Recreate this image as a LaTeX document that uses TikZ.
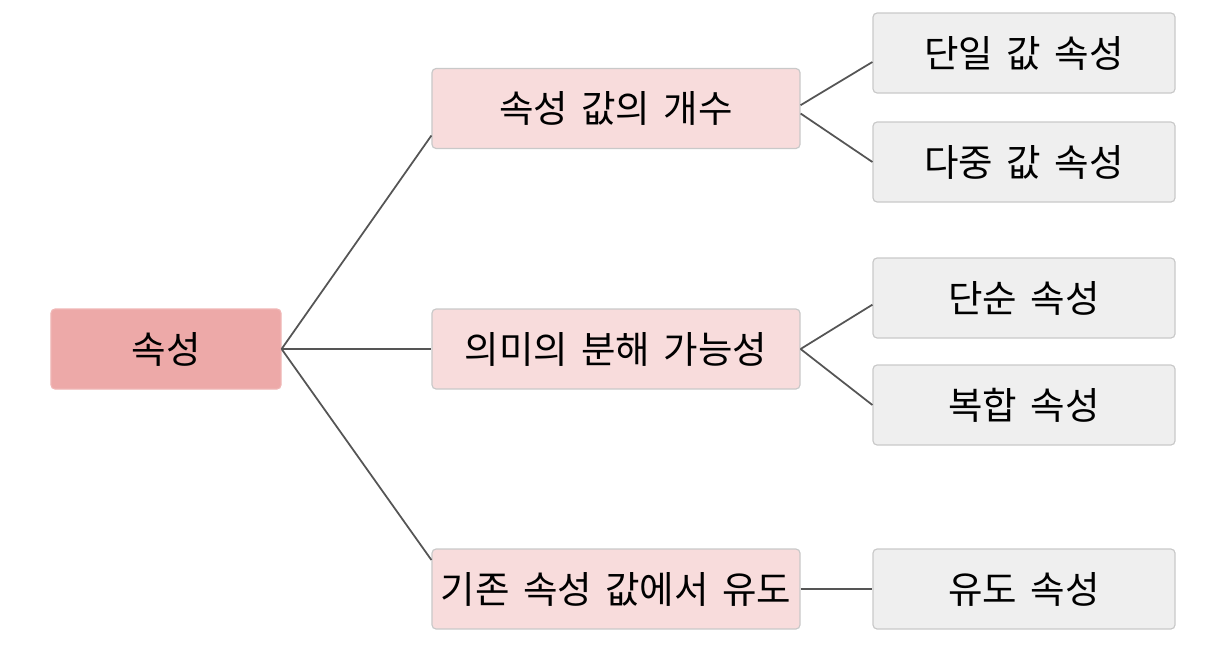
\documentclass[tikz,border=0pt]{standalone}
\usepackage{fontspec}
\newfontfamily\kofont[WordSpace=1.6]{Noto Sans CJK KR}
\definecolor{rootpink}{HTML}{EDA9A8}
\definecolor{midpink}{HTML}{F8DCDC}
\definecolor{leafgray}{HTML}{EFEFEF}
\definecolor{boxline}{HTML}{C9C9C9}
\definecolor{linkgray}{HTML}{555555}
\begin{document}
\begin{tikzpicture}[x=0.03cm,y=-0.03cm,
		every node/.style={font=\kofont\fontsize{32}{38}\selectfont,rounded corners=3.5pt,line width=1pt,inner sep=0pt},
		rootbox/.style={fill=rootpink,draw=rootpink!85!white,minimum width=6.9cm,minimum height=2.4cm},
		midbox/.style={fill=midpink,draw=boxline,minimum width=11.04cm,minimum height=2.4cm},
		leafbox/.style={fill=leafgray,draw=boxline,minimum width=9.06cm,minimum height=2.4cm},
		link/.style={draw=linkgray,line width=1.5pt}]
		\useasboundingbox (0,0) rectangle (1227,659);

		\node[rootbox] (attr) at (166,349) {속성};

		\node[midbox] (count) at (616,108.5) {속성 값의 개수};
		\node[midbox] (split) at (616,349) {의미의 분해 가능성};
		\node[midbox] (derive) at (616,589) {기존 속성 값에서 유도};

		\node[leafbox] (single) at (1024,53) {단일 값 속성};
		\node[leafbox] (multi) at (1024,162) {다중 값 속성};
		\node[leafbox] (simple) at (1024,298) {단순 속성};
		\node[leafbox] (compound) at (1024,405) {복합 속성};
		\node[leafbox] (derived) at (1024,589) {유도 속성};

		\draw[link] (attr.east) -- ([yshift=-0.81cm]count.west);
		\draw[link] (attr.east) -- (split.west);
		\draw[link] (attr.east) -- ([yshift=0.87cm]derive.west);

		\draw[link] ([yshift=0.1cm]count.east) -- ([yshift=-0.27cm]single.west);
		\draw[link] ([yshift=-0.15cm]count.east) -- (multi.west);
		\draw[link] (split.east) -- ([yshift=-0.2cm]simple.west);
		\draw[link] (split.east) -- (compound.west);
		\draw[link] (derive.east) -- (derived.west);
	\end{tikzpicture}
\end{document}
